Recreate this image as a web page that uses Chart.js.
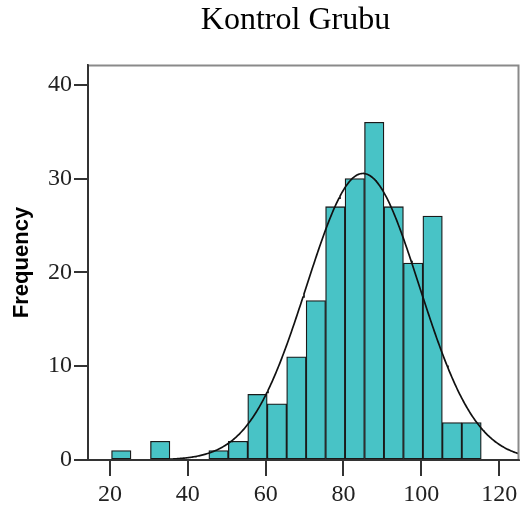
<!DOCTYPE html>
<html>
<head>
<meta charset="utf-8">
<script src="https://cdn.jsdelivr.net/npm/chart.js@4/dist/chart.umd.min.js"></script>
<style>
  html, body { margin: 0; padding: 0; background: #fff; }
  #wrap { width: 525px; height: 508px; position: relative; }
</style>
</head>
<body>
<div id="wrap"><canvas id="c" width="525" height="508"></canvas></div>
<script>
// ---- Data ----
const chartTitle = "Kontrol Grubu";
const yAxisTitle = "Frequency";
const binCenters = [22.9, 27.9, 32.9, 37.9, 42.9, 47.9, 52.9, 57.9, 62.9, 67.9, 72.9, 77.9, 82.9, 87.9, 92.9, 97.9, 102.9, 107.9, 112.9];
const binCounts  = [1, 0, 2, 0, 0, 1, 2, 7, 6, 11, 17, 27, 30, 36, 27, 21, 26, 4, 4];
const xTickValues = [20, 40, 60, 80, 100, 120];
const yTickValues = [0, 10, 20, 30, 40];
// Normal curve parameters (fitted curve shown in the reference)
const curveMean = 85.0;
const curveStdDev = 14.5;
const curveN = 222;
const binWidth = 5;
const xRange = [14.35, 125.1];
const yRange = [0, 42.1];

const barData = binCenters.map((x, i) => ({ x: x, y: binCounts[i] }));
const curveData = [];
for (let x = xRange[0]; x <= xRange[1] + 0.001; x += 0.25) {
  const z = (x - curveMean) / curveStdDev;
  curveData.push({ x: x, y: curveN * binWidth / (curveStdDev * Math.sqrt(2 * Math.PI)) * Math.exp(-0.5 * z * z) });
}

const serif = '"Liberation Serif", "Times New Roman", serif';

const framePlugin = {
  id: 'frame',
  afterDraw(chart) {
    const { ctx, chartArea: a } = chart;
    ctx.save();
    ctx.strokeStyle = '#8a8a8a';
    ctx.lineWidth = 2;
    ctx.beginPath();
    ctx.moveTo(a.left, a.top + 0.5);
    ctx.lineTo(a.right - 0.5, a.top + 0.5);
    ctx.lineTo(a.right - 0.5, a.bottom);
    ctx.stroke();
    ctx.strokeStyle = '#333';
    ctx.beginPath();
    ctx.moveTo(a.left, a.top);
    ctx.lineTo(a.left, a.bottom);
    ctx.lineTo(a.right, a.bottom);
    ctx.stroke();
    // title
    ctx.fillStyle = '#000';
    ctx.font = '32px ' + serif;
    ctx.textAlign = 'center';
    ctx.textBaseline = 'alphabetic';
    ctx.fillText(chartTitle, 295.5, 29);
    ctx.restore();
  }
};

new Chart(document.getElementById('c'), {
  type: 'bar',
  data: {
    datasets: [
      {
        type: 'line',
        data: curveData,
        borderColor: '#111',
        borderWidth: 1.7,
        pointRadius: 0,
        fill: false,
        tension: 0,
        order: 0
      },
      {
        type: 'bar',
        data: barData,
        backgroundColor: '#48C3C6',
        borderColor: '#1a1a1a',
        borderWidth: 1.3,
        borderSkipped: false,
        barPercentage: 1,
        categoryPercentage: 1,
        order: 1
      }
    ]
  },
  options: {
    responsive: false,
    animation: false,
    events: [],
    layout: { padding: { top: 65, right: 6, bottom: 0, left: 0 } },
    plugins: { legend: { display: false }, tooltip: { enabled: false }, title: { display: false } },
    scales: {
      x: {
        type: 'linear',
        min: xRange[0],
        max: xRange[1],
        offset: false,
        afterFit(s) { s.height = 48; },
        afterBuildTicks(s) { s.ticks = xTickValues.map(v => ({ value: v })); },
        border: { display: true, color: '#333', width: 2 },
        grid: { display: true, drawOnChartArea: false, drawTicks: true, tickLength: 16, color: '#333', lineWidth: 2, offset: false },
        ticks: {
          includeBounds: false,
          padding: 4,
          color: '#222',
          maxRotation: 0,
          font: { family: serif, size: 24 }
        }
      },
      y: {
        type: 'linear',
        min: yRange[0],
        max: yRange[1],
        afterFit(s) { s.width = 88; },
        afterBuildTicks(s) { s.ticks = yTickValues.map(v => ({ value: v })); },
        border: { display: true, color: '#333', width: 2 },
        grid: { display: true, drawOnChartArea: false, drawTicks: true, tickLength: 14, color: '#333', lineWidth: 2 },
        title: {
          display: true,
          text: yAxisTitle,
          color: '#000',
          padding: { top: 11, bottom: 0 },
          font: { family: '"Liberation Sans", Arial, sans-serif', size: 22, weight: 'bold', lineHeight: 1 }
        },
        ticks: {
          includeBounds: false,
          padding: 2,
          color: '#222',
          font: { family: serif, size: 24 }
        }
      }
    }
  },
  plugins: [framePlugin]
});
</script>
</body>
</html>
